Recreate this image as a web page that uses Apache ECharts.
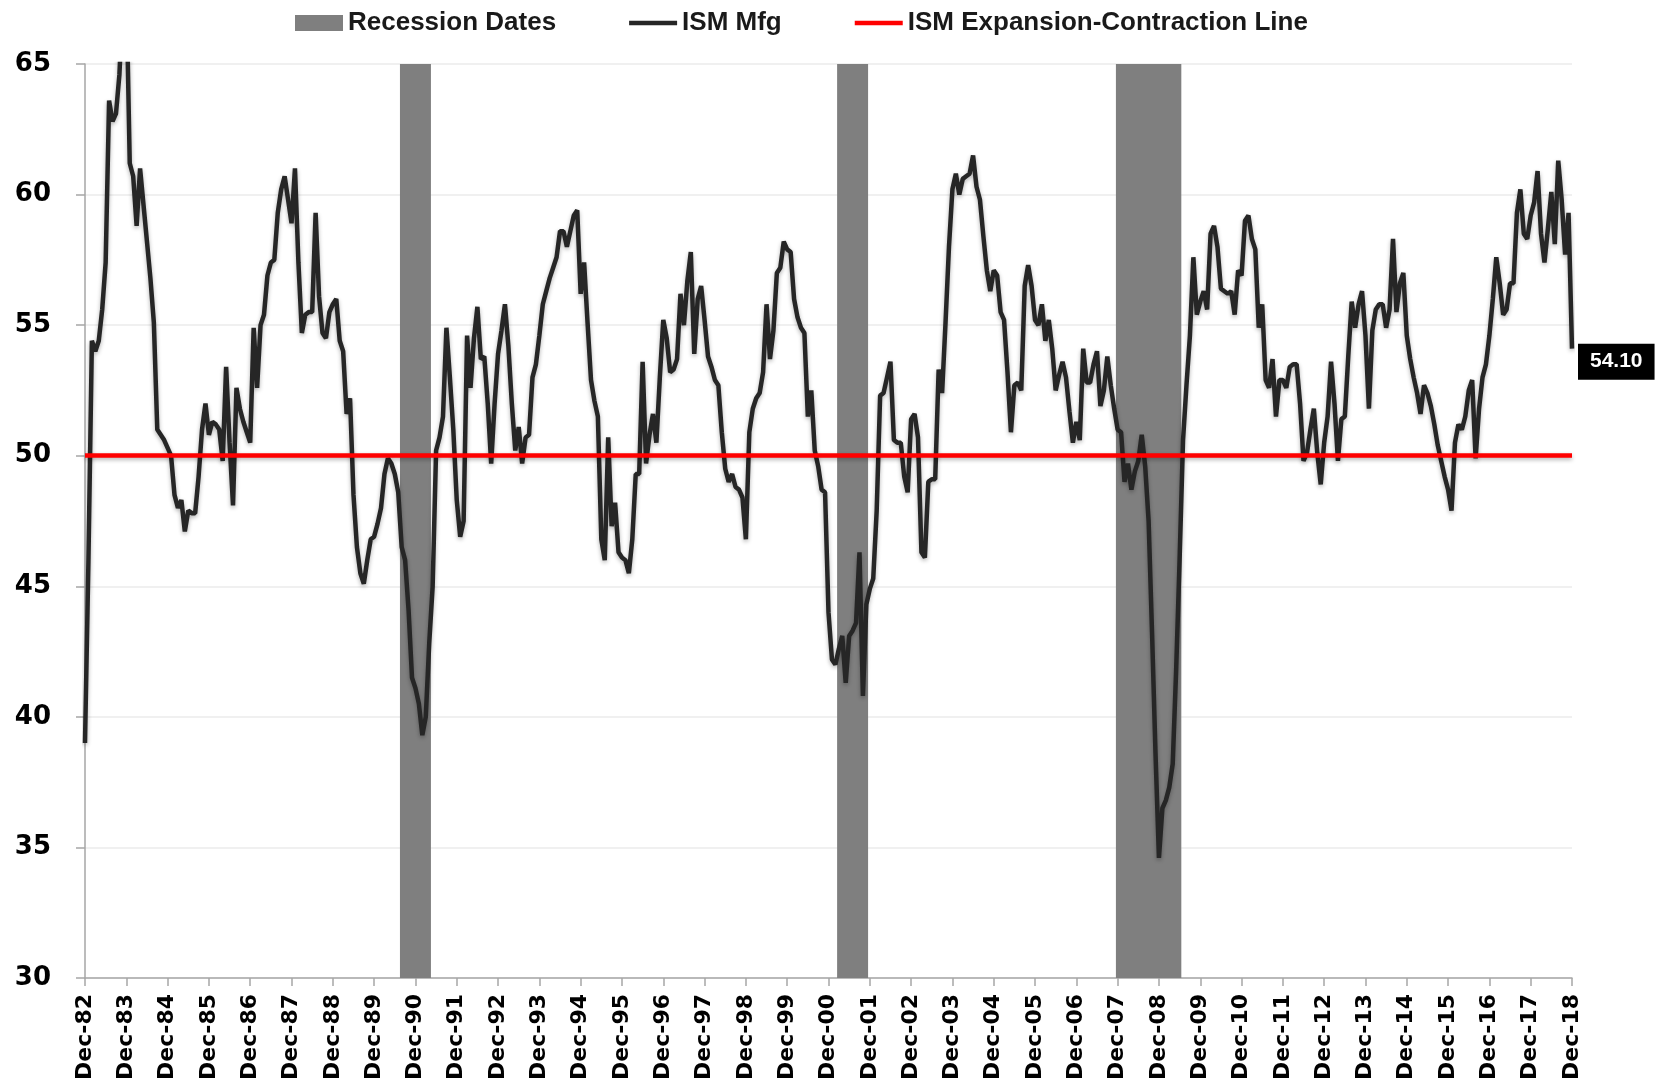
<!DOCTYPE html>
<html>
<head>
<meta charset="utf-8">
<script src="https://cdn.jsdelivr.net/npm/echarts/dist/echarts.min.js"></script>
<style>
html,body{margin:0;padding:0;background:#fff;}
#chart{width:1665px;height:1088px;}
</style>
</head>
<body>
<div id="chart"></div>
<script>
// ---- Data (monthly ISM Manufacturing) ----
const dec1982 = [39.0];
const y1983 = [46.0, 54.4, 54.0, 54.4, 55.6, 57.4, 63.6, 62.8, 63.1, 64.6, 67.5, 68.0];
const y1984 = [61.2, 60.7, 58.8, 61.0, 59.6, 58.2, 56.8, 55.1, 51.0, 50.8, 50.6, 50.3];
const y1985 = [50.0, 48.5, 48.0, 48.3, 47.1, 47.9, 47.8, 47.8, 49.2, 51.0, 52.0, 50.8];
const y1986 = [51.3, 51.2, 51.0, 49.8, 53.4, 50.5, 48.1, 52.6, 51.8, 51.3, 50.9, 50.5];
const y1987 = [54.9, 52.6, 55.0, 55.4, 56.9, 57.4, 57.5, 59.3, 60.2, 60.7, 59.8, 58.9];
const y1988 = [61.0, 57.4, 54.7, 55.4, 55.5, 55.5, 59.3, 56.1, 54.7, 54.5, 55.5, 55.8];
const y1989 = [56.0, 54.4, 54.0, 51.6, 52.2, 48.5, 46.5, 45.5, 45.1, 46.0, 46.8, 46.9];
const y1990 = [47.4, 48.0, 49.3, 49.9, 49.7, 49.3, 48.6, 46.5, 46.0, 44.1, 41.5, 41.1];
const y1991 = [40.5, 39.3, 40.0, 42.8, 45.0, 50.2, 50.7, 51.5, 54.9, 53.0, 51.0, 48.3];
const y1992 = [46.9, 47.5, 54.6, 52.6, 54.5, 55.7, 53.7, 53.8, 52.0, 49.7, 52.0, 53.9];
const y1993 = [54.8, 55.8, 54.2, 52.0, 50.2, 51.1, 49.7, 50.7, 50.8, 53.0, 53.5, 54.6];
const y1994 = [55.8, 56.3, 56.8, 57.2, 57.6, 58.6, 58.6, 58.0, 58.6, 59.2, 59.4, 56.2];
const y1995 = [57.4, 55.1, 52.9, 52.1, 51.5, 46.8, 46.0, 50.7, 47.3, 48.2, 46.3, 46.1];
const y1996 = [46.0, 45.5, 46.8, 49.3, 49.3, 53.6, 49.7, 50.8, 51.6, 50.5, 53.0, 55.2];
const y1997 = [54.5, 53.2, 53.3, 53.7, 56.2, 55.0, 56.7, 57.8, 53.9, 56.0, 56.5, 55.2];
const y1998 = [53.8, 53.4, 52.9, 52.7, 50.9, 49.5, 49.0, 49.3, 48.8, 48.7, 48.4, 46.8];
const y1999 = [50.9, 51.8, 52.2, 52.4, 53.2, 55.8, 53.7, 54.8, 57.0, 57.2, 58.2, 57.9];
const y2000 = [57.8, 56.0, 55.3, 54.9, 54.7, 51.5, 52.5, 50.2, 49.6, 48.7, 48.6, 44.0];
const y2001 = [42.2, 42.0, 42.6, 43.1, 41.3, 43.1, 43.3, 43.6, 46.3, 40.8, 44.3, 44.9];
const y2002 = [45.3, 47.9, 52.3, 52.4, 53.0, 53.6, 50.6, 50.5, 50.5, 49.2, 48.6, 51.4];
const y2003 = [51.6, 50.7, 46.3, 46.1, 49.0, 49.1, 49.1, 53.3, 52.4, 55.1, 58.0, 60.2];
const y2004 = [60.8, 60.0, 60.6, 60.7, 60.8, 61.5, 60.3, 59.8, 58.4, 57.1, 56.3, 57.1];
const y2005 = [56.9, 55.5, 55.2, 53.2, 50.9, 52.7, 52.8, 52.5, 56.5, 57.3, 56.5, 55.2];
const y2006 = [55.0, 55.8, 54.4, 55.2, 54.1, 52.5, 53.1, 53.6, 53.0, 51.7, 50.5, 51.3];
const y2007 = [50.6, 54.1, 52.8, 52.8, 53.5, 54.0, 51.9, 52.5, 53.8, 52.7, 51.8, 51.0];
const y2008 = [50.9, 49.0, 49.7, 48.7, 49.4, 49.8, 50.8, 49.6, 47.5, 43.2, 38.6, 34.6];
const y2009 = [36.5, 36.8, 37.3, 38.2, 41.8, 46.0, 50.6, 52.7, 54.6, 57.6, 55.4, 55.9];
const y2010 = [56.3, 55.6, 58.5, 58.8, 58.0, 56.4, 56.3, 56.2, 56.3, 55.4, 57.1, 56.9];
const y2011 = [59.0, 59.2, 58.3, 57.9, 54.9, 55.8, 52.9, 52.6, 53.7, 51.5, 52.9, 52.9];
const y2012 = [52.6, 53.4, 53.5, 53.5, 52.0, 49.8, 50.1, 51.0, 51.8, 50.1, 48.9, 50.5];
const y2013 = [51.5, 53.6, 52.0, 49.8, 51.4, 51.5, 53.8, 55.9, 54.9, 55.8, 56.3, 54.6];
const y2014 = [51.8, 54.8, 55.6, 55.8, 55.8, 54.9, 55.6, 58.3, 55.5, 56.6, 57.0, 54.6];
const y2015 = [53.7, 53.0, 52.4, 51.6, 52.7, 52.4, 51.9, 51.2, 50.4, 49.8, 49.2, 48.7];
const y2016 = [47.9, 50.5, 51.2, 51.0, 51.5, 52.5, 52.9, 49.9, 51.8, 53.0, 53.5, 54.6];
const y2017 = [56.0, 57.6, 56.6, 55.4, 55.6, 56.6, 56.6, 59.3, 60.2, 58.5, 58.3, 59.2];
const y2018 = [59.7, 60.9, 58.5, 57.4, 58.7, 60.1, 58.1, 61.3, 59.8, 57.7, 59.3, 54.1];

const monthNames = ['Jan','Feb','Mar','Apr','May','Jun','Jul','Aug','Sep','Oct','Nov','Dec'];
const recessions = [['Aug-90','Apr-91'], ['Mar-01','Nov-01'], ['Dec-07','Jun-09']];
const expansionLine = 50;
const yTicks = { min: 30, max: 65, interval: 5 };

// ---- Build ----
const ism = [].concat(dec1982, y1983, y1984, y1985, y1986, y1987, y1988, y1989, y1990,
  y1991, y1992, y1993, y1994, y1995, y1996, y1997, y1998, y1999, y2000, y2001, y2002,
  y2003, y2004, y2005, y2006, y2007, y2008, y2009, y2010, y2011, y2012, y2013, y2014,
  y2015, y2016, y2017, y2018);

const categories = ism.map(function (v, i) {
  const mo = (11 + i) % 12;
  const yr = 1982 + Math.floor((11 + i) / 12);
  return monthNames[mo] + '-' + String(yr).slice(2);
});

const recessionSpans = recessions.map(function (r) {
  return [categories.indexOf(r[0]), categories.indexOf(r[1])];
});

const chart = echarts.init(document.getElementById('chart'), null, { renderer: 'canvas' });
const axisGray = '#a6a6a6';
const lineIcon = 'path://M0,0 L48,0 L48,4.5 L0,4.5 Z';

chart.setOption({
  animation: false,
  backgroundColor: '#ffffff',
  grid: { left: 85, right: 93, top: 64, bottom: 110, containLabel: false, outerBoundsMode: 'none' },
  legend: {
    left: 290, top: 5,
    itemWidth: 48, itemHeight: 16, itemGap: 73,
    symbolKeepAspect: true,
    textStyle: { fontFamily: 'Liberation Sans', fontWeight: 'bold', fontSize: 26, color: '#1a1a1a' },
    data: [
      { name: 'Recession Dates', icon: 'rect' },
      { name: 'ISM Mfg', icon: lineIcon },
      { name: 'ISM Expansion-Contraction Line', icon: lineIcon }
    ]
  },
  xAxis: {
    type: 'category',
    data: categories,
    boundaryGap: false,
    axisLine: { lineStyle: { color: axisGray, width: 1.5 } },
    axisTick: { show: true, interval: 11, length: 8, lineStyle: { color: axisGray, width: 1.5 } },
    axisLabel: {
      interval: 11, rotate: 90, margin: 16,
      fontFamily: 'DejaVu Sans', fontWeight: 'bold', fontSize: 22, color: '#000'
    },
    splitLine: { show: false }
  },
  yAxis: {
    type: 'value',
    min: yTicks.min, max: yTicks.max, interval: yTicks.interval,
    axisLine: { show: true, lineStyle: { color: axisGray, width: 1.5 } },
    axisTick: { show: true, length: 9, lineStyle: { color: axisGray, width: 1.5 } },
    axisLabel: { margin: 34, fontFamily: 'DejaVu Sans', fontWeight: 'bold', fontSize: 26, color: '#000' },
    splitLine: { show: true, lineStyle: { color: '#ebebeb', width: 1.5 } }
  },
  series: [
    {
      name: 'Recession Dates',
      type: 'custom',
      data: recessionSpans,
      encode: { x: [0, 1] },
      itemStyle: { color: '#7f7f7f' },
      silent: true,
      z: 1,
      renderItem: function (params, api) {
        const s = api.value(0), e = api.value(1);
        const p0 = api.coord([s, yTicks.max]);
        const p1 = api.coord([e, yTicks.min]);
        const w = api.size([1, 0])[0];
        return {
          type: 'rect',
          shape: { x: p0[0] - w / 2, y: p0[1], width: (p1[0] - p0[0]) + w, height: p1[1] - p0[1] },
          style: { fill: '#7f7f7f' }
        };
      }
    },
    {
      name: 'ISM Mfg',
      type: 'line',
      data: ism,
      symbol: 'none',
      showSymbol: false,
      clip: true,
      color: '#262626',
      lineStyle: { color: '#262626', width: 4.5, shadowColor: 'rgba(0,0,0,0.3)', shadowBlur: 4, shadowOffsetY: 2 },
      endLabel: {
        show: true,
        formatter: function (p) { return Number(p.value).toFixed(2); },
        backgroundColor: '#000',
        color: '#fff',
        fontFamily: 'Liberation Sans', fontWeight: 'bold', fontSize: 21,
        padding: [8, 12, 7, 12],
        distance: 6,
        offset: [0, 13]
      },
      z: 3
    },
    {
      name: 'ISM Expansion-Contraction Line',
      type: 'line',
      data: [],
      symbol: 'none',
      color: '#ff0000',
      lineStyle: { color: '#ff0000', width: 4 },
      markLine: {
        silent: true,
        symbol: ['none', 'none'],
        label: { show: false },
        lineStyle: { color: '#ff0000', width: 4.5, type: 'solid', shadowColor: 'rgba(0,0,0,0.3)', shadowBlur: 4, shadowOffsetY: 2 },
        data: [{ yAxis: expansionLine }]
      },
      z: 4
    }
  ]
});
</script>
</body>
</html>
